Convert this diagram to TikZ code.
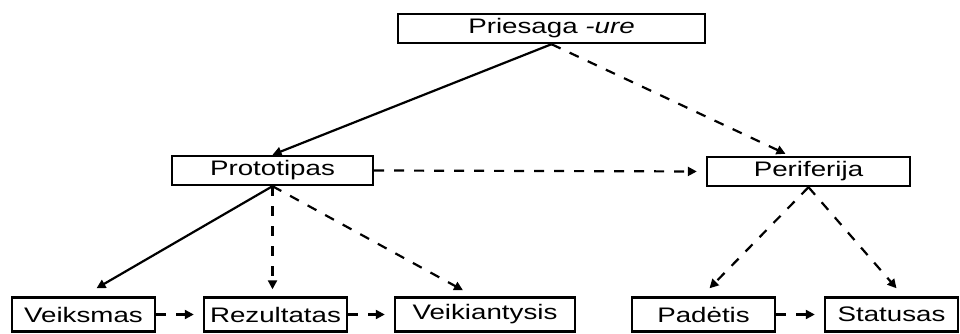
\documentclass[tikz,border=0pt]{standalone}
\usepackage{fontspec}
\setmainfont{Liberation Sans}
\usepackage{graphicx}
\usetikzlibrary{arrows.meta}

\newcommand{\wide}[1]{\scalebox{1.32}[1]{#1}}

\begin{document}
\begin{tikzpicture}[x=1pt,y=-1pt,
  box/.style={draw,line width=2.4pt,minimum height=29pt,inner sep=0pt,font=\fontsize{21}{24}\selectfont},
  low/.style={box,minimum height=34pt},
  arr/.style={line width=2.2pt,-{Triangle[length=9pt,width=9pt]}},
  dsh/.style={arr,dash pattern=on 10pt off 10pt}]
\useasboundingbox (0,0) rectangle (960,334);
\node [box,minimum width=307pt] (priesaga) at (551.5,28.5) {\wide{Priesaga \textit{-ure}}};
\node [box,minimum width=201pt] (prototipas) at (272.5,170.5) {\wide{Prototipas}};
\node [box,minimum width=203pt] (periferija) at (808.5,171.5) {\wide{Periferija}};
\node [low,minimum width=143pt] (veiksmas) at (83.5,314.5) {\wide{Veiksmas}};
\node [low,minimum width=143pt] (rezultatas) at (275.5,314.5) {\wide{Rezultatas}};
\node [low,minimum width=180pt] (veikiantysis) at (485,314.5) {\wide{Veikiantysis}};
\node [low,minimum width=143pt] (padetis) at (703.5,314.5) {\wide{Padėtis}};
\node [low,minimum width=133pt] (statusas) at (891.5,314.5) {\wide{Statusas}};
% top level
\draw [arr] (priesaga.south) -- (prototipas.north);
\draw [dsh] (priesaga.south) -- ([xshift=-23pt,yshift=2pt]periferija.north);
\draw [dsh,shorten >=9pt] (prototipas.east) -- (periferija.west);
% prototype
\draw [arr] (prototipas.south) -- ([xshift=13pt,yshift=8pt]veiksmas.north);
\draw [dsh,shorten >=7pt] (prototipas.south) -- (prototipas.south |- rezultatas.north);
\draw [dsh] (prototipas.south) -- ([xshift=-22pt,yshift=6pt]veikiantysis.north);
% periphery
\draw [dsh] (periferija.south) -- ([xshift=6pt,yshift=8pt]padetis.north);
\draw [dsh] (periferija.south) -- ([xshift=5pt,yshift=8pt]statusas.north);
% bottom row
\draw [dsh,shorten >=9pt] (veiksmas.east) -- (rezultatas.west);
\draw [dsh,shorten >=9pt] (rezultatas.east) -- (veikiantysis.west);
\draw [dsh,shorten >=9pt] (padetis.east) -- (statusas.west);
\end{tikzpicture}
\end{document}
